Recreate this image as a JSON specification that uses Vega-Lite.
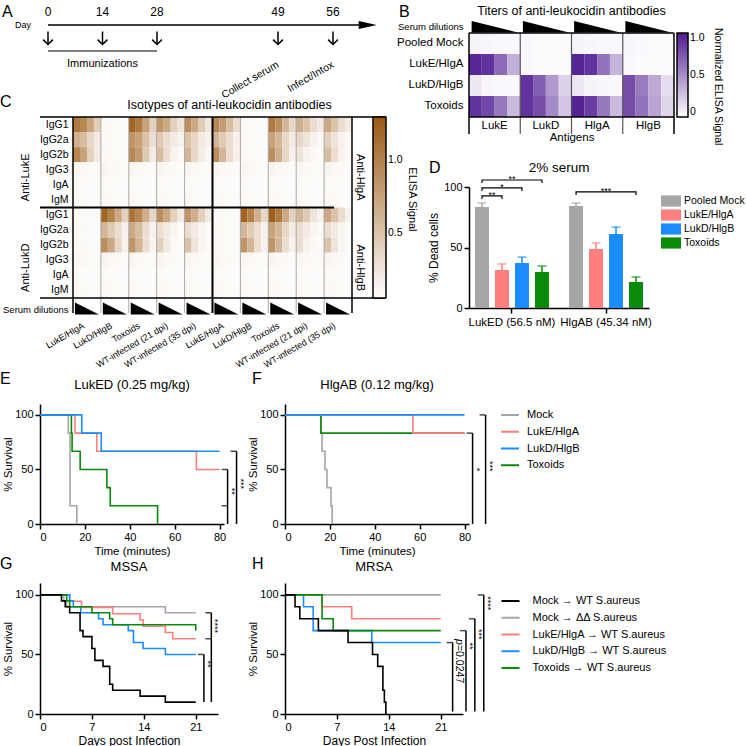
{
"$schema": "https://vega.github.io/schema/vega-lite/v6.json",
"background": "white",
"padding": {"left": 0, "top": 4, "right": 0, "bottom": 0},
"config": {
  "font": "Liberation Sans",
  "view": {"stroke": null},
  "axis": {"domainColor": "black", "domainWidth": 1.5, "tickColor": "black", "tickWidth": 1.5, "tickSize": 5, "labelColor": "black", "labelFontSize": 11, "titleColor": "black", "titleFontSize": 11.5, "titleFontWeight": "normal", "grid": false, "labelPadding": 2, "titlePadding": 3},
  "legend": {"labelColor": "black", "titleColor": "black", "labelFontSize": 11, "titleFontWeight": "normal"},
  "text": {"color": "black"}
},
"resolve": {"scale": {"color": "independent"}},
"spacing": 1,
"vconcat": [
 {"resolve": {"scale": {"color": "independent"}},
  "hconcat": [
  {"resolve": {"scale": {"color": "independent"}},
   "vconcat": [
   {
    "width": 340, "height": 52,
    "data": {"values": [{"day":0,"event":"Immunization"},{"day":14,"event":"Immunization"},{"day":28,"event":"Immunization"},{"day":49,"event":"Collect serum"},{"day":56,"event":"Infect/Intox"}]},
    "layer": [
     {"mark": {"type": "text", "fontSize": 12, "baseline": "middle"},
      "encoding": {"x": {"field": "day", "type": "quantitative", "scale": {"domain": [0,28,49,56,64], "range": [8,117,238,293,341]}, "axis": null},
                   "y": {"datum": "days", "type": "nominal", "scale": {"type": "point", "domain": ["days","line","arrows","bracket","label"], "padding": 0}, "axis": null},
                   "text": {"field": "day", "type": "quantitative"}}},
     {"data": {"values": [{}]}, "mark": {"type": "rule", "strokeWidth": 1.5, "color": "black"},
      "encoding": {"x": {"datum": 0, "type": "quantitative", "axis": null}, "x2": {"datum": 62}, "y": {"datum": "line", "type": "nominal", "axis": null}}},
     {"data": {"values": [{}]}, "mark": {"type": "point", "shape": "M-1,-0.45L1,0L-1,0.45Z", "size": 324, "filled": true, "color": "black", "opacity": 1, "strokeWidth": 0},
      "encoding": {"x": {"datum": 62.5, "type": "quantitative", "axis": null}, "y": {"datum": "line", "type": "nominal", "axis": null}}},
     {"mark": {"type": "point", "shape": "M0,-1L0,1M-0.75,0.25L0,1L0.75,0.25", "size": 169, "filled": false, "color": "black", "strokeWidth": 1.5, "opacity": 1},
      "encoding": {"x": {"field": "day", "type": "quantitative", "axis": null}, "y": {"datum": "arrows", "type": "nominal", "axis": null}}},
     {"data": {"values": [{}]}, "mark": {"type": "rule", "strokeWidth": 1.2, "color": "black"},
      "encoding": {"x": {"datum": 0, "type": "quantitative", "axis": null}, "x2": {"datum": 28}, "y": {"datum": "bracket", "type": "nominal", "axis": null}}},
     {"data": {"values": [{}]}, "mark": {"type": "text", "text": "Immunizations", "fontSize": 11, "baseline": "middle"},
      "encoding": {"x": {"datum": 14, "type": "quantitative", "axis": null}, "y": {"datum": "label", "type": "nominal", "axis": null}}},
     {"transform": [{"filter": "datum.day > 28"}], "mark": {"type": "text", "fontSize": 10.5, "angle": 330, "align": "right", "baseline": "middle"},
      "encoding": {"x": {"field": "day", "type": "quantitative", "axis": null}, "y": {"datum": "label", "type": "nominal", "axis": null}, "text": {"field": "event"}}},
     {"data": {"values": [{}]}, "mark": {"type": "text", "text": "Day", "fontSize": 9, "align": "right", "baseline": "middle", "xOffset": -17},
      "encoding": {"x": {"datum": 0, "type": "quantitative", "axis": null}, "y": {"datum": "line", "type": "nominal", "axis": null}}},
     {"data": {"values": [{}]}, "mark": {"type": "text", "text": "A", "fontSize": 16, "align": "left", "baseline": "middle", "xOffset": -46},
      "encoding": {"x": {"datum": 0, "type": "quantitative", "axis": null}, "y": {"datum": "days", "type": "nominal", "axis": null}}}
    ]
   },
   {
    "width": 312, "height": 196,
    "layer": [
     {"data": {"values": [
{"r":"top|IgG1","c":"L|LukE/HlgA|1","v":1.05},{"r":"top|IgG1","c":"L|LukE/HlgA|2","v":0.95},{"r":"top|IgG1","c":"L|LukE/HlgA|3","v":0.72},{"r":"top|IgG1","c":"L|LukE/HlgA|4","v":0.42},
{"r":"top|IgG1","c":"L|LukD/HlgB|1","v":0.1},{"r":"top|IgG1","c":"L|LukD/HlgB|2","v":0.09},{"r":"top|IgG1","c":"L|LukD/HlgB|3","v":0.08},{"r":"top|IgG1","c":"L|LukD/HlgB|4","v":0.08},
{"r":"top|IgG1","c":"L|Toxoids|1","v":1.22},{"r":"top|IgG1","c":"L|Toxoids|2","v":1.05},{"r":"top|IgG1","c":"L|Toxoids|3","v":0.75},{"r":"top|IgG1","c":"L|Toxoids|4","v":0.4},
{"r":"top|IgG1","c":"L|WT-infected (21 dpi)|1","v":0.85},{"r":"top|IgG1","c":"L|WT-infected (21 dpi)|2","v":0.7},{"r":"top|IgG1","c":"L|WT-infected (21 dpi)|3","v":0.4},{"r":"top|IgG1","c":"L|WT-infected (21 dpi)|4","v":0.25},
{"r":"top|IgG1","c":"L|WT-infected (35 dpi)|1","v":0.9},{"r":"top|IgG1","c":"L|WT-infected (35 dpi)|2","v":0.7},{"r":"top|IgG1","c":"L|WT-infected (35 dpi)|3","v":0.42},{"r":"top|IgG1","c":"L|WT-infected (35 dpi)|4","v":0.22},
{"r":"top|IgG1","c":"H|LukE/HlgA|1","v":0.95},{"r":"top|IgG1","c":"H|LukE/HlgA|2","v":0.8},{"r":"top|IgG1","c":"H|LukE/HlgA|3","v":0.55},{"r":"top|IgG1","c":"H|LukE/HlgA|4","v":0.3},
{"r":"top|IgG1","c":"H|LukD/HlgB|1","v":0.1},{"r":"top|IgG1","c":"H|LukD/HlgB|2","v":0.09},{"r":"top|IgG1","c":"H|LukD/HlgB|3","v":0.08},{"r":"top|IgG1","c":"H|LukD/HlgB|4","v":0.08},
{"r":"top|IgG1","c":"H|Toxoids|1","v":1.05},{"r":"top|IgG1","c":"H|Toxoids|2","v":0.9},{"r":"top|IgG1","c":"H|Toxoids|3","v":0.6},{"r":"top|IgG1","c":"H|Toxoids|4","v":0.35},
{"r":"top|IgG1","c":"H|WT-infected (21 dpi)|1","v":0.65},{"r":"top|IgG1","c":"H|WT-infected (21 dpi)|2","v":0.5},{"r":"top|IgG1","c":"H|WT-infected (21 dpi)|3","v":0.3},{"r":"top|IgG1","c":"H|WT-infected (21 dpi)|4","v":0.2},
{"r":"top|IgG1","c":"H|WT-infected (35 dpi)|1","v":0.7},{"r":"top|IgG1","c":"H|WT-infected (35 dpi)|2","v":0.5},{"r":"top|IgG1","c":"H|WT-infected (35 dpi)|3","v":0.3},{"r":"top|IgG1","c":"H|WT-infected (35 dpi)|4","v":0.2},
{"r":"top|IgG2a","c":"L|LukE/HlgA|1","v":0.65},{"r":"top|IgG2a","c":"L|LukE/HlgA|2","v":0.55},{"r":"top|IgG2a","c":"L|LukE/HlgA|3","v":0.35},{"r":"top|IgG2a","c":"L|LukE/HlgA|4","v":0.2},
{"r":"top|IgG2a","c":"L|LukD/HlgB|1","v":0.1},{"r":"top|IgG2a","c":"L|LukD/HlgB|2","v":0.09},{"r":"top|IgG2a","c":"L|LukD/HlgB|3","v":0.08},{"r":"top|IgG2a","c":"L|LukD/HlgB|4","v":0.08},
{"r":"top|IgG2a","c":"L|Toxoids|1","v":0.85},{"r":"top|IgG2a","c":"L|Toxoids|2","v":0.75},{"r":"top|IgG2a","c":"L|Toxoids|3","v":0.5},{"r":"top|IgG2a","c":"L|Toxoids|4","v":0.3},
{"r":"top|IgG2a","c":"L|WT-infected (21 dpi)|1","v":0.45},{"r":"top|IgG2a","c":"L|WT-infected (21 dpi)|2","v":0.3},{"r":"top|IgG2a","c":"L|WT-infected (21 dpi)|3","v":0.2},{"r":"top|IgG2a","c":"L|WT-infected (21 dpi)|4","v":0.15},
{"r":"top|IgG2a","c":"L|WT-infected (35 dpi)|1","v":0.5},{"r":"top|IgG2a","c":"L|WT-infected (35 dpi)|2","v":0.35},{"r":"top|IgG2a","c":"L|WT-infected (35 dpi)|3","v":0.2},{"r":"top|IgG2a","c":"L|WT-infected (35 dpi)|4","v":0.15},
{"r":"top|IgG2a","c":"H|LukE/HlgA|1","v":0.6},{"r":"top|IgG2a","c":"H|LukE/HlgA|2","v":0.45},{"r":"top|IgG2a","c":"H|LukE/HlgA|3","v":0.3},{"r":"top|IgG2a","c":"H|LukE/HlgA|4","v":0.15},
{"r":"top|IgG2a","c":"H|LukD/HlgB|1","v":0.1},{"r":"top|IgG2a","c":"H|LukD/HlgB|2","v":0.09},{"r":"top|IgG2a","c":"H|LukD/HlgB|3","v":0.08},{"r":"top|IgG2a","c":"H|LukD/HlgB|4","v":0.08},
{"r":"top|IgG2a","c":"H|Toxoids|1","v":0.75},{"r":"top|IgG2a","c":"H|Toxoids|2","v":0.6},{"r":"top|IgG2a","c":"H|Toxoids|3","v":0.35},{"r":"top|IgG2a","c":"H|Toxoids|4","v":0.2},
{"r":"top|IgG2a","c":"H|WT-infected (21 dpi)|1","v":0.35},{"r":"top|IgG2a","c":"H|WT-infected (21 dpi)|2","v":0.25},{"r":"top|IgG2a","c":"H|WT-infected (21 dpi)|3","v":0.15},{"r":"top|IgG2a","c":"H|WT-infected (21 dpi)|4","v":0.1},
{"r":"top|IgG2a","c":"H|WT-infected (35 dpi)|1","v":0.4},{"r":"top|IgG2a","c":"H|WT-infected (35 dpi)|2","v":0.25},{"r":"top|IgG2a","c":"H|WT-infected (35 dpi)|3","v":0.15},{"r":"top|IgG2a","c":"H|WT-infected (35 dpi)|4","v":0.1},
{"r":"top|IgG2b","c":"L|LukE/HlgA|1","v":0.95},{"r":"top|IgG2b","c":"L|LukE/HlgA|2","v":0.75},{"r":"top|IgG2b","c":"L|LukE/HlgA|3","v":0.4},{"r":"top|IgG2b","c":"L|LukE/HlgA|4","v":0.2},
{"r":"top|IgG2b","c":"L|LukD/HlgB|1","v":0.1},{"r":"top|IgG2b","c":"L|LukD/HlgB|2","v":0.09},{"r":"top|IgG2b","c":"L|LukD/HlgB|3","v":0.08},{"r":"top|IgG2b","c":"L|LukD/HlgB|4","v":0.08},
{"r":"top|IgG2b","c":"L|Toxoids|1","v":0.95},{"r":"top|IgG2b","c":"L|Toxoids|2","v":0.8},{"r":"top|IgG2b","c":"L|Toxoids|3","v":0.45},{"r":"top|IgG2b","c":"L|Toxoids|4","v":0.2},
{"r":"top|IgG2b","c":"L|WT-infected (21 dpi)|1","v":0.55},{"r":"top|IgG2b","c":"L|WT-infected (21 dpi)|2","v":0.3},{"r":"top|IgG2b","c":"L|WT-infected (21 dpi)|3","v":0.15},{"r":"top|IgG2b","c":"L|WT-infected (21 dpi)|4","v":0.1},
{"r":"top|IgG2b","c":"L|WT-infected (35 dpi)|1","v":0.6},{"r":"top|IgG2b","c":"L|WT-infected (35 dpi)|2","v":0.35},{"r":"top|IgG2b","c":"L|WT-infected (35 dpi)|3","v":0.18},{"r":"top|IgG2b","c":"L|WT-infected (35 dpi)|4","v":0.1},
{"r":"top|IgG2b","c":"H|LukE/HlgA|1","v":0.9},{"r":"top|IgG2b","c":"H|LukE/HlgA|2","v":0.6},{"r":"top|IgG2b","c":"H|LukE/HlgA|3","v":0.3},{"r":"top|IgG2b","c":"H|LukE/HlgA|4","v":0.15},
{"r":"top|IgG2b","c":"H|LukD/HlgB|1","v":0.1},{"r":"top|IgG2b","c":"H|LukD/HlgB|2","v":0.09},{"r":"top|IgG2b","c":"H|LukD/HlgB|3","v":0.08},{"r":"top|IgG2b","c":"H|LukD/HlgB|4","v":0.08},
{"r":"top|IgG2b","c":"H|Toxoids|1","v":0.9},{"r":"top|IgG2b","c":"H|Toxoids|2","v":0.65},{"r":"top|IgG2b","c":"H|Toxoids|3","v":0.35},{"r":"top|IgG2b","c":"H|Toxoids|4","v":0.15},
{"r":"top|IgG2b","c":"H|WT-infected (21 dpi)|1","v":0.25},{"r":"top|IgG2b","c":"H|WT-infected (21 dpi)|2","v":0.15},{"r":"top|IgG2b","c":"H|WT-infected (21 dpi)|3","v":0.1},{"r":"top|IgG2b","c":"H|WT-infected (21 dpi)|4","v":0.08},
{"r":"top|IgG2b","c":"H|WT-infected (35 dpi)|1","v":0.55},{"r":"top|IgG2b","c":"H|WT-infected (35 dpi)|2","v":0.3},{"r":"top|IgG2b","c":"H|WT-infected (35 dpi)|3","v":0.15},{"r":"top|IgG2b","c":"H|WT-infected (35 dpi)|4","v":0.1},
{"r":"top|IgG3","c":"L|LukE/HlgA|1","v":0.12},{"r":"top|IgG3","c":"L|LukE/HlgA|2","v":0.1},{"r":"top|IgG3","c":"L|LukE/HlgA|3","v":0.09},{"r":"top|IgG3","c":"L|LukE/HlgA|4","v":0.08},
{"r":"top|IgG3","c":"L|LukD/HlgB|1","v":0.12},{"r":"top|IgG3","c":"L|LukD/HlgB|2","v":0.1},{"r":"top|IgG3","c":"L|LukD/HlgB|3","v":0.09},{"r":"top|IgG3","c":"L|LukD/HlgB|4","v":0.08},
{"r":"top|IgG3","c":"L|Toxoids|1","v":0.12},{"r":"top|IgG3","c":"L|Toxoids|2","v":0.1},{"r":"top|IgG3","c":"L|Toxoids|3","v":0.09},{"r":"top|IgG3","c":"L|Toxoids|4","v":0.08},
{"r":"top|IgG3","c":"L|WT-infected (21 dpi)|1","v":0.12},{"r":"top|IgG3","c":"L|WT-infected (21 dpi)|2","v":0.1},{"r":"top|IgG3","c":"L|WT-infected (21 dpi)|3","v":0.09},{"r":"top|IgG3","c":"L|WT-infected (21 dpi)|4","v":0.08},
{"r":"top|IgG3","c":"L|WT-infected (35 dpi)|1","v":0.12},{"r":"top|IgG3","c":"L|WT-infected (35 dpi)|2","v":0.1},{"r":"top|IgG3","c":"L|WT-infected (35 dpi)|3","v":0.09},{"r":"top|IgG3","c":"L|WT-infected (35 dpi)|4","v":0.08},
{"r":"top|IgG3","c":"H|LukE/HlgA|1","v":0.12},{"r":"top|IgG3","c":"H|LukE/HlgA|2","v":0.1},{"r":"top|IgG3","c":"H|LukE/HlgA|3","v":0.09},{"r":"top|IgG3","c":"H|LukE/HlgA|4","v":0.08},
{"r":"top|IgG3","c":"H|LukD/HlgB|1","v":0.12},{"r":"top|IgG3","c":"H|LukD/HlgB|2","v":0.1},{"r":"top|IgG3","c":"H|LukD/HlgB|3","v":0.09},{"r":"top|IgG3","c":"H|LukD/HlgB|4","v":0.08},
{"r":"top|IgG3","c":"H|Toxoids|1","v":0.12},{"r":"top|IgG3","c":"H|Toxoids|2","v":0.1},{"r":"top|IgG3","c":"H|Toxoids|3","v":0.09},{"r":"top|IgG3","c":"H|Toxoids|4","v":0.08},
{"r":"top|IgG3","c":"H|WT-infected (21 dpi)|1","v":0.12},{"r":"top|IgG3","c":"H|WT-infected (21 dpi)|2","v":0.1},{"r":"top|IgG3","c":"H|WT-infected (21 dpi)|3","v":0.09},{"r":"top|IgG3","c":"H|WT-infected (21 dpi)|4","v":0.08},
{"r":"top|IgG3","c":"H|WT-infected (35 dpi)|1","v":0.12},{"r":"top|IgG3","c":"H|WT-infected (35 dpi)|2","v":0.1},{"r":"top|IgG3","c":"H|WT-infected (35 dpi)|3","v":0.09},{"r":"top|IgG3","c":"H|WT-infected (35 dpi)|4","v":0.08},
{"r":"top|IgA","c":"L|LukE/HlgA|1","v":0.09},{"r":"top|IgA","c":"L|LukE/HlgA|2","v":0.08},{"r":"top|IgA","c":"L|LukE/HlgA|3","v":0.08},{"r":"top|IgA","c":"L|LukE/HlgA|4","v":0.07},
{"r":"top|IgA","c":"L|LukD/HlgB|1","v":0.09},{"r":"top|IgA","c":"L|LukD/HlgB|2","v":0.08},{"r":"top|IgA","c":"L|LukD/HlgB|3","v":0.08},{"r":"top|IgA","c":"L|LukD/HlgB|4","v":0.07},
{"r":"top|IgA","c":"L|Toxoids|1","v":0.09},{"r":"top|IgA","c":"L|Toxoids|2","v":0.08},{"r":"top|IgA","c":"L|Toxoids|3","v":0.08},{"r":"top|IgA","c":"L|Toxoids|4","v":0.07},
{"r":"top|IgA","c":"L|WT-infected (21 dpi)|1","v":0.09},{"r":"top|IgA","c":"L|WT-infected (21 dpi)|2","v":0.08},{"r":"top|IgA","c":"L|WT-infected (21 dpi)|3","v":0.08},{"r":"top|IgA","c":"L|WT-infected (21 dpi)|4","v":0.07},
{"r":"top|IgA","c":"L|WT-infected (35 dpi)|1","v":0.09},{"r":"top|IgA","c":"L|WT-infected (35 dpi)|2","v":0.08},{"r":"top|IgA","c":"L|WT-infected (35 dpi)|3","v":0.08},{"r":"top|IgA","c":"L|WT-infected (35 dpi)|4","v":0.07},
{"r":"top|IgA","c":"H|LukE/HlgA|1","v":0.09},{"r":"top|IgA","c":"H|LukE/HlgA|2","v":0.08},{"r":"top|IgA","c":"H|LukE/HlgA|3","v":0.08},{"r":"top|IgA","c":"H|LukE/HlgA|4","v":0.07},
{"r":"top|IgA","c":"H|LukD/HlgB|1","v":0.09},{"r":"top|IgA","c":"H|LukD/HlgB|2","v":0.08},{"r":"top|IgA","c":"H|LukD/HlgB|3","v":0.08},{"r":"top|IgA","c":"H|LukD/HlgB|4","v":0.07},
{"r":"top|IgA","c":"H|Toxoids|1","v":0.09},{"r":"top|IgA","c":"H|Toxoids|2","v":0.08},{"r":"top|IgA","c":"H|Toxoids|3","v":0.08},{"r":"top|IgA","c":"H|Toxoids|4","v":0.07},
{"r":"top|IgA","c":"H|WT-infected (21 dpi)|1","v":0.09},{"r":"top|IgA","c":"H|WT-infected (21 dpi)|2","v":0.08},{"r":"top|IgA","c":"H|WT-infected (21 dpi)|3","v":0.08},{"r":"top|IgA","c":"H|WT-infected (21 dpi)|4","v":0.07},
{"r":"top|IgA","c":"H|WT-infected (35 dpi)|1","v":0.09},{"r":"top|IgA","c":"H|WT-infected (35 dpi)|2","v":0.08},{"r":"top|IgA","c":"H|WT-infected (35 dpi)|3","v":0.08},{"r":"top|IgA","c":"H|WT-infected (35 dpi)|4","v":0.07},
{"r":"top|IgM","c":"L|LukE/HlgA|1","v":0.1},{"r":"top|IgM","c":"L|LukE/HlgA|2","v":0.09},{"r":"top|IgM","c":"L|LukE/HlgA|3","v":0.08},{"r":"top|IgM","c":"L|LukE/HlgA|4","v":0.08},
{"r":"top|IgM","c":"L|LukD/HlgB|1","v":0.1},{"r":"top|IgM","c":"L|LukD/HlgB|2","v":0.09},{"r":"top|IgM","c":"L|LukD/HlgB|3","v":0.08},{"r":"top|IgM","c":"L|LukD/HlgB|4","v":0.08},
{"r":"top|IgM","c":"L|Toxoids|1","v":0.1},{"r":"top|IgM","c":"L|Toxoids|2","v":0.09},{"r":"top|IgM","c":"L|Toxoids|3","v":0.08},{"r":"top|IgM","c":"L|Toxoids|4","v":0.08},
{"r":"top|IgM","c":"L|WT-infected (21 dpi)|1","v":0.1},{"r":"top|IgM","c":"L|WT-infected (21 dpi)|2","v":0.09},{"r":"top|IgM","c":"L|WT-infected (21 dpi)|3","v":0.08},{"r":"top|IgM","c":"L|WT-infected (21 dpi)|4","v":0.08},
{"r":"top|IgM","c":"L|WT-infected (35 dpi)|1","v":0.1},{"r":"top|IgM","c":"L|WT-infected (35 dpi)|2","v":0.09},{"r":"top|IgM","c":"L|WT-infected (35 dpi)|3","v":0.08},{"r":"top|IgM","c":"L|WT-infected (35 dpi)|4","v":0.08},
{"r":"top|IgM","c":"H|LukE/HlgA|1","v":0.1},{"r":"top|IgM","c":"H|LukE/HlgA|2","v":0.09},{"r":"top|IgM","c":"H|LukE/HlgA|3","v":0.08},{"r":"top|IgM","c":"H|LukE/HlgA|4","v":0.08},
{"r":"top|IgM","c":"H|LukD/HlgB|1","v":0.1},{"r":"top|IgM","c":"H|LukD/HlgB|2","v":0.09},{"r":"top|IgM","c":"H|LukD/HlgB|3","v":0.08},{"r":"top|IgM","c":"H|LukD/HlgB|4","v":0.08},
{"r":"top|IgM","c":"H|Toxoids|1","v":0.1},{"r":"top|IgM","c":"H|Toxoids|2","v":0.09},{"r":"top|IgM","c":"H|Toxoids|3","v":0.08},{"r":"top|IgM","c":"H|Toxoids|4","v":0.08},
{"r":"top|IgM","c":"H|WT-infected (21 dpi)|1","v":0.1},{"r":"top|IgM","c":"H|WT-infected (21 dpi)|2","v":0.09},{"r":"top|IgM","c":"H|WT-infected (21 dpi)|3","v":0.08},{"r":"top|IgM","c":"H|WT-infected (21 dpi)|4","v":0.08},
{"r":"top|IgM","c":"H|WT-infected (35 dpi)|1","v":0.1},{"r":"top|IgM","c":"H|WT-infected (35 dpi)|2","v":0.09},{"r":"top|IgM","c":"H|WT-infected (35 dpi)|3","v":0.08},{"r":"top|IgM","c":"H|WT-infected (35 dpi)|4","v":0.08},
{"r":"bot|IgG1","c":"L|LukE/HlgA|1","v":0.1},{"r":"bot|IgG1","c":"L|LukE/HlgA|2","v":0.09},{"r":"bot|IgG1","c":"L|LukE/HlgA|3","v":0.08},{"r":"bot|IgG1","c":"L|LukE/HlgA|4","v":0.08},
{"r":"bot|IgG1","c":"L|LukD/HlgB|1","v":1.2},{"r":"bot|IgG1","c":"L|LukD/HlgB|2","v":1.0},{"r":"bot|IgG1","c":"L|LukD/HlgB|3","v":0.7},{"r":"bot|IgG1","c":"L|LukD/HlgB|4","v":0.4},
{"r":"bot|IgG1","c":"L|Toxoids|1","v":1.1},{"r":"bot|IgG1","c":"L|Toxoids|2","v":0.95},{"r":"bot|IgG1","c":"L|Toxoids|3","v":0.65},{"r":"bot|IgG1","c":"L|Toxoids|4","v":0.35},
{"r":"bot|IgG1","c":"L|WT-infected (21 dpi)|1","v":0.9},{"r":"bot|IgG1","c":"L|WT-infected (21 dpi)|2","v":0.7},{"r":"bot|IgG1","c":"L|WT-infected (21 dpi)|3","v":0.4},{"r":"bot|IgG1","c":"L|WT-infected (21 dpi)|4","v":0.2},
{"r":"bot|IgG1","c":"L|WT-infected (35 dpi)|1","v":0.85},{"r":"bot|IgG1","c":"L|WT-infected (35 dpi)|2","v":0.65},{"r":"bot|IgG1","c":"L|WT-infected (35 dpi)|3","v":0.4},{"r":"bot|IgG1","c":"L|WT-infected (35 dpi)|4","v":0.2},
{"r":"bot|IgG1","c":"H|LukE/HlgA|1","v":0.1},{"r":"bot|IgG1","c":"H|LukE/HlgA|2","v":0.09},{"r":"bot|IgG1","c":"H|LukE/HlgA|3","v":0.08},{"r":"bot|IgG1","c":"H|LukE/HlgA|4","v":0.08},
{"r":"bot|IgG1","c":"H|LukD/HlgB|1","v":1.2},{"r":"bot|IgG1","c":"H|LukD/HlgB|2","v":1.0},{"r":"bot|IgG1","c":"H|LukD/HlgB|3","v":0.65},{"r":"bot|IgG1","c":"H|LukD/HlgB|4","v":0.35},
{"r":"bot|IgG1","c":"H|Toxoids|1","v":1.25},{"r":"bot|IgG1","c":"H|Toxoids|2","v":1.05},{"r":"bot|IgG1","c":"H|Toxoids|3","v":0.7},{"r":"bot|IgG1","c":"H|Toxoids|4","v":0.4},
{"r":"bot|IgG1","c":"H|WT-infected (21 dpi)|1","v":0.6},{"r":"bot|IgG1","c":"H|WT-infected (21 dpi)|2","v":0.45},{"r":"bot|IgG1","c":"H|WT-infected (21 dpi)|3","v":0.25},{"r":"bot|IgG1","c":"H|WT-infected (21 dpi)|4","v":0.15},
{"r":"bot|IgG1","c":"H|WT-infected (35 dpi)|1","v":0.7},{"r":"bot|IgG1","c":"H|WT-infected (35 dpi)|2","v":0.5},{"r":"bot|IgG1","c":"H|WT-infected (35 dpi)|3","v":0.3},{"r":"bot|IgG1","c":"H|WT-infected (35 dpi)|4","v":0.15},
{"r":"bot|IgG2a","c":"L|LukE/HlgA|1","v":0.1},{"r":"bot|IgG2a","c":"L|LukE/HlgA|2","v":0.09},{"r":"bot|IgG2a","c":"L|LukE/HlgA|3","v":0.08},{"r":"bot|IgG2a","c":"L|LukE/HlgA|4","v":0.08},
{"r":"bot|IgG2a","c":"L|LukD/HlgB|1","v":0.6},{"r":"bot|IgG2a","c":"L|LukD/HlgB|2","v":0.45},{"r":"bot|IgG2a","c":"L|LukD/HlgB|3","v":0.3},{"r":"bot|IgG2a","c":"L|LukD/HlgB|4","v":0.15},
{"r":"bot|IgG2a","c":"L|Toxoids|1","v":0.7},{"r":"bot|IgG2a","c":"L|Toxoids|2","v":0.55},{"r":"bot|IgG2a","c":"L|Toxoids|3","v":0.3},{"r":"bot|IgG2a","c":"L|Toxoids|4","v":0.15},
{"r":"bot|IgG2a","c":"L|WT-infected (21 dpi)|1","v":0.3},{"r":"bot|IgG2a","c":"L|WT-infected (21 dpi)|2","v":0.2},{"r":"bot|IgG2a","c":"L|WT-infected (21 dpi)|3","v":0.12},{"r":"bot|IgG2a","c":"L|WT-infected (21 dpi)|4","v":0.08},
{"r":"bot|IgG2a","c":"L|WT-infected (35 dpi)|1","v":0.3},{"r":"bot|IgG2a","c":"L|WT-infected (35 dpi)|2","v":0.2},{"r":"bot|IgG2a","c":"L|WT-infected (35 dpi)|3","v":0.12},{"r":"bot|IgG2a","c":"L|WT-infected (35 dpi)|4","v":0.08},
{"r":"bot|IgG2a","c":"H|LukE/HlgA|1","v":0.1},{"r":"bot|IgG2a","c":"H|LukE/HlgA|2","v":0.09},{"r":"bot|IgG2a","c":"H|LukE/HlgA|3","v":0.08},{"r":"bot|IgG2a","c":"H|LukE/HlgA|4","v":0.08},
{"r":"bot|IgG2a","c":"H|LukD/HlgB|1","v":0.6},{"r":"bot|IgG2a","c":"H|LukD/HlgB|2","v":0.45},{"r":"bot|IgG2a","c":"H|LukD/HlgB|3","v":0.3},{"r":"bot|IgG2a","c":"H|LukD/HlgB|4","v":0.15},
{"r":"bot|IgG2a","c":"H|Toxoids|1","v":0.75},{"r":"bot|IgG2a","c":"H|Toxoids|2","v":0.6},{"r":"bot|IgG2a","c":"H|Toxoids|3","v":0.35},{"r":"bot|IgG2a","c":"H|Toxoids|4","v":0.2},
{"r":"bot|IgG2a","c":"H|WT-infected (21 dpi)|1","v":0.3},{"r":"bot|IgG2a","c":"H|WT-infected (21 dpi)|2","v":0.2},{"r":"bot|IgG2a","c":"H|WT-infected (21 dpi)|3","v":0.12},{"r":"bot|IgG2a","c":"H|WT-infected (21 dpi)|4","v":0.08},
{"r":"bot|IgG2a","c":"H|WT-infected (35 dpi)|1","v":0.3},{"r":"bot|IgG2a","c":"H|WT-infected (35 dpi)|2","v":0.2},{"r":"bot|IgG2a","c":"H|WT-infected (35 dpi)|3","v":0.12},{"r":"bot|IgG2a","c":"H|WT-infected (35 dpi)|4","v":0.08},
{"r":"bot|IgG2b","c":"L|LukE/HlgA|1","v":0.1},{"r":"bot|IgG2b","c":"L|LukE/HlgA|2","v":0.09},{"r":"bot|IgG2b","c":"L|LukE/HlgA|3","v":0.08},{"r":"bot|IgG2b","c":"L|LukE/HlgA|4","v":0.08},
{"r":"bot|IgG2b","c":"L|LukD/HlgB|1","v":0.9},{"r":"bot|IgG2b","c":"L|LukD/HlgB|2","v":0.7},{"r":"bot|IgG2b","c":"L|LukD/HlgB|3","v":0.35},{"r":"bot|IgG2b","c":"L|LukD/HlgB|4","v":0.15},
{"r":"bot|IgG2b","c":"L|Toxoids|1","v":0.85},{"r":"bot|IgG2b","c":"L|Toxoids|2","v":0.6},{"r":"bot|IgG2b","c":"L|Toxoids|3","v":0.3},{"r":"bot|IgG2b","c":"L|Toxoids|4","v":0.12},
{"r":"bot|IgG2b","c":"L|WT-infected (21 dpi)|1","v":0.4},{"r":"bot|IgG2b","c":"L|WT-infected (21 dpi)|2","v":0.2},{"r":"bot|IgG2b","c":"L|WT-infected (21 dpi)|3","v":0.1},{"r":"bot|IgG2b","c":"L|WT-infected (21 dpi)|4","v":0.08},
{"r":"bot|IgG2b","c":"L|WT-infected (35 dpi)|1","v":0.5},{"r":"bot|IgG2b","c":"L|WT-infected (35 dpi)|2","v":0.25},{"r":"bot|IgG2b","c":"L|WT-infected (35 dpi)|3","v":0.12},{"r":"bot|IgG2b","c":"L|WT-infected (35 dpi)|4","v":0.08},
{"r":"bot|IgG2b","c":"H|LukE/HlgA|1","v":0.1},{"r":"bot|IgG2b","c":"H|LukE/HlgA|2","v":0.09},{"r":"bot|IgG2b","c":"H|LukE/HlgA|3","v":0.08},{"r":"bot|IgG2b","c":"H|LukE/HlgA|4","v":0.08},
{"r":"bot|IgG2b","c":"H|LukD/HlgB|1","v":0.85},{"r":"bot|IgG2b","c":"H|LukD/HlgB|2","v":0.6},{"r":"bot|IgG2b","c":"H|LukD/HlgB|3","v":0.3},{"r":"bot|IgG2b","c":"H|LukD/HlgB|4","v":0.15},
{"r":"bot|IgG2b","c":"H|Toxoids|1","v":0.85},{"r":"bot|IgG2b","c":"H|Toxoids|2","v":0.6},{"r":"bot|IgG2b","c":"H|Toxoids|3","v":0.3},{"r":"bot|IgG2b","c":"H|Toxoids|4","v":0.15},
{"r":"bot|IgG2b","c":"H|WT-infected (21 dpi)|1","v":0.3},{"r":"bot|IgG2b","c":"H|WT-infected (21 dpi)|2","v":0.15},{"r":"bot|IgG2b","c":"H|WT-infected (21 dpi)|3","v":0.1},{"r":"bot|IgG2b","c":"H|WT-infected (21 dpi)|4","v":0.08},
{"r":"bot|IgG2b","c":"H|WT-infected (35 dpi)|1","v":0.5},{"r":"bot|IgG2b","c":"H|WT-infected (35 dpi)|2","v":0.25},{"r":"bot|IgG2b","c":"H|WT-infected (35 dpi)|3","v":0.12},{"r":"bot|IgG2b","c":"H|WT-infected (35 dpi)|4","v":0.08},
{"r":"bot|IgG3","c":"L|LukE/HlgA|1","v":0.12},{"r":"bot|IgG3","c":"L|LukE/HlgA|2","v":0.1},{"r":"bot|IgG3","c":"L|LukE/HlgA|3","v":0.09},{"r":"bot|IgG3","c":"L|LukE/HlgA|4","v":0.08},
{"r":"bot|IgG3","c":"L|LukD/HlgB|1","v":0.12},{"r":"bot|IgG3","c":"L|LukD/HlgB|2","v":0.1},{"r":"bot|IgG3","c":"L|LukD/HlgB|3","v":0.09},{"r":"bot|IgG3","c":"L|LukD/HlgB|4","v":0.08},
{"r":"bot|IgG3","c":"L|Toxoids|1","v":0.12},{"r":"bot|IgG3","c":"L|Toxoids|2","v":0.1},{"r":"bot|IgG3","c":"L|Toxoids|3","v":0.09},{"r":"bot|IgG3","c":"L|Toxoids|4","v":0.08},
{"r":"bot|IgG3","c":"L|WT-infected (21 dpi)|1","v":0.12},{"r":"bot|IgG3","c":"L|WT-infected (21 dpi)|2","v":0.1},{"r":"bot|IgG3","c":"L|WT-infected (21 dpi)|3","v":0.09},{"r":"bot|IgG3","c":"L|WT-infected (21 dpi)|4","v":0.08},
{"r":"bot|IgG3","c":"L|WT-infected (35 dpi)|1","v":0.12},{"r":"bot|IgG3","c":"L|WT-infected (35 dpi)|2","v":0.1},{"r":"bot|IgG3","c":"L|WT-infected (35 dpi)|3","v":0.09},{"r":"bot|IgG3","c":"L|WT-infected (35 dpi)|4","v":0.08},
{"r":"bot|IgG3","c":"H|LukE/HlgA|1","v":0.12},{"r":"bot|IgG3","c":"H|LukE/HlgA|2","v":0.1},{"r":"bot|IgG3","c":"H|LukE/HlgA|3","v":0.09},{"r":"bot|IgG3","c":"H|LukE/HlgA|4","v":0.08},
{"r":"bot|IgG3","c":"H|LukD/HlgB|1","v":0.12},{"r":"bot|IgG3","c":"H|LukD/HlgB|2","v":0.1},{"r":"bot|IgG3","c":"H|LukD/HlgB|3","v":0.09},{"r":"bot|IgG3","c":"H|LukD/HlgB|4","v":0.08},
{"r":"bot|IgG3","c":"H|Toxoids|1","v":0.12},{"r":"bot|IgG3","c":"H|Toxoids|2","v":0.1},{"r":"bot|IgG3","c":"H|Toxoids|3","v":0.09},{"r":"bot|IgG3","c":"H|Toxoids|4","v":0.08},
{"r":"bot|IgG3","c":"H|WT-infected (21 dpi)|1","v":0.12},{"r":"bot|IgG3","c":"H|WT-infected (21 dpi)|2","v":0.1},{"r":"bot|IgG3","c":"H|WT-infected (21 dpi)|3","v":0.09},{"r":"bot|IgG3","c":"H|WT-infected (21 dpi)|4","v":0.08},
{"r":"bot|IgG3","c":"H|WT-infected (35 dpi)|1","v":0.12},{"r":"bot|IgG3","c":"H|WT-infected (35 dpi)|2","v":0.1},{"r":"bot|IgG3","c":"H|WT-infected (35 dpi)|3","v":0.09},{"r":"bot|IgG3","c":"H|WT-infected (35 dpi)|4","v":0.08},
{"r":"bot|IgA","c":"L|LukE/HlgA|1","v":0.09},{"r":"bot|IgA","c":"L|LukE/HlgA|2","v":0.08},{"r":"bot|IgA","c":"L|LukE/HlgA|3","v":0.08},{"r":"bot|IgA","c":"L|LukE/HlgA|4","v":0.07},
{"r":"bot|IgA","c":"L|LukD/HlgB|1","v":0.09},{"r":"bot|IgA","c":"L|LukD/HlgB|2","v":0.08},{"r":"bot|IgA","c":"L|LukD/HlgB|3","v":0.08},{"r":"bot|IgA","c":"L|LukD/HlgB|4","v":0.07},
{"r":"bot|IgA","c":"L|Toxoids|1","v":0.09},{"r":"bot|IgA","c":"L|Toxoids|2","v":0.08},{"r":"bot|IgA","c":"L|Toxoids|3","v":0.08},{"r":"bot|IgA","c":"L|Toxoids|4","v":0.07},
{"r":"bot|IgA","c":"L|WT-infected (21 dpi)|1","v":0.09},{"r":"bot|IgA","c":"L|WT-infected (21 dpi)|2","v":0.08},{"r":"bot|IgA","c":"L|WT-infected (21 dpi)|3","v":0.08},{"r":"bot|IgA","c":"L|WT-infected (21 dpi)|4","v":0.07},
{"r":"bot|IgA","c":"L|WT-infected (35 dpi)|1","v":0.09},{"r":"bot|IgA","c":"L|WT-infected (35 dpi)|2","v":0.08},{"r":"bot|IgA","c":"L|WT-infected (35 dpi)|3","v":0.08},{"r":"bot|IgA","c":"L|WT-infected (35 dpi)|4","v":0.07},
{"r":"bot|IgA","c":"H|LukE/HlgA|1","v":0.09},{"r":"bot|IgA","c":"H|LukE/HlgA|2","v":0.08},{"r":"bot|IgA","c":"H|LukE/HlgA|3","v":0.08},{"r":"bot|IgA","c":"H|LukE/HlgA|4","v":0.07},
{"r":"bot|IgA","c":"H|LukD/HlgB|1","v":0.09},{"r":"bot|IgA","c":"H|LukD/HlgB|2","v":0.08},{"r":"bot|IgA","c":"H|LukD/HlgB|3","v":0.08},{"r":"bot|IgA","c":"H|LukD/HlgB|4","v":0.07},
{"r":"bot|IgA","c":"H|Toxoids|1","v":0.09},{"r":"bot|IgA","c":"H|Toxoids|2","v":0.08},{"r":"bot|IgA","c":"H|Toxoids|3","v":0.08},{"r":"bot|IgA","c":"H|Toxoids|4","v":0.07},
{"r":"bot|IgA","c":"H|WT-infected (21 dpi)|1","v":0.09},{"r":"bot|IgA","c":"H|WT-infected (21 dpi)|2","v":0.08},{"r":"bot|IgA","c":"H|WT-infected (21 dpi)|3","v":0.08},{"r":"bot|IgA","c":"H|WT-infected (21 dpi)|4","v":0.07},
{"r":"bot|IgA","c":"H|WT-infected (35 dpi)|1","v":0.09},{"r":"bot|IgA","c":"H|WT-infected (35 dpi)|2","v":0.08},{"r":"bot|IgA","c":"H|WT-infected (35 dpi)|3","v":0.08},{"r":"bot|IgA","c":"H|WT-infected (35 dpi)|4","v":0.07},
{"r":"bot|IgM","c":"L|LukE/HlgA|1","v":0.1},{"r":"bot|IgM","c":"L|LukE/HlgA|2","v":0.09},{"r":"bot|IgM","c":"L|LukE/HlgA|3","v":0.08},{"r":"bot|IgM","c":"L|LukE/HlgA|4","v":0.08},
{"r":"bot|IgM","c":"L|LukD/HlgB|1","v":0.1},{"r":"bot|IgM","c":"L|LukD/HlgB|2","v":0.09},{"r":"bot|IgM","c":"L|LukD/HlgB|3","v":0.08},{"r":"bot|IgM","c":"L|LukD/HlgB|4","v":0.08},
{"r":"bot|IgM","c":"L|Toxoids|1","v":0.1},{"r":"bot|IgM","c":"L|Toxoids|2","v":0.09},{"r":"bot|IgM","c":"L|Toxoids|3","v":0.08},{"r":"bot|IgM","c":"L|Toxoids|4","v":0.08},
{"r":"bot|IgM","c":"L|WT-infected (21 dpi)|1","v":0.1},{"r":"bot|IgM","c":"L|WT-infected (21 dpi)|2","v":0.09},{"r":"bot|IgM","c":"L|WT-infected (21 dpi)|3","v":0.08},{"r":"bot|IgM","c":"L|WT-infected (21 dpi)|4","v":0.08},
{"r":"bot|IgM","c":"L|WT-infected (35 dpi)|1","v":0.1},{"r":"bot|IgM","c":"L|WT-infected (35 dpi)|2","v":0.09},{"r":"bot|IgM","c":"L|WT-infected (35 dpi)|3","v":0.08},{"r":"bot|IgM","c":"L|WT-infected (35 dpi)|4","v":0.08},
{"r":"bot|IgM","c":"H|LukE/HlgA|1","v":0.1},{"r":"bot|IgM","c":"H|LukE/HlgA|2","v":0.09},{"r":"bot|IgM","c":"H|LukE/HlgA|3","v":0.08},{"r":"bot|IgM","c":"H|LukE/HlgA|4","v":0.08},
{"r":"bot|IgM","c":"H|LukD/HlgB|1","v":0.1},{"r":"bot|IgM","c":"H|LukD/HlgB|2","v":0.09},{"r":"bot|IgM","c":"H|LukD/HlgB|3","v":0.08},{"r":"bot|IgM","c":"H|LukD/HlgB|4","v":0.08},
{"r":"bot|IgM","c":"H|Toxoids|1","v":0.1},{"r":"bot|IgM","c":"H|Toxoids|2","v":0.09},{"r":"bot|IgM","c":"H|Toxoids|3","v":0.08},{"r":"bot|IgM","c":"H|Toxoids|4","v":0.08},
{"r":"bot|IgM","c":"H|WT-infected (21 dpi)|1","v":0.1},{"r":"bot|IgM","c":"H|WT-infected (21 dpi)|2","v":0.09},{"r":"bot|IgM","c":"H|WT-infected (21 dpi)|3","v":0.08},{"r":"bot|IgM","c":"H|WT-infected (21 dpi)|4","v":0.08},
{"r":"bot|IgM","c":"H|WT-infected (35 dpi)|1","v":0.1},{"r":"bot|IgM","c":"H|WT-infected (35 dpi)|2","v":0.09},{"r":"bot|IgM","c":"H|WT-infected (35 dpi)|3","v":0.08},{"r":"bot|IgM","c":"H|WT-infected (35 dpi)|4","v":0.08}
      ]},
      "mark": {"type": "rect"},
      "encoding": {
       "x": {"field": "c", "type": "nominal",
             "scale": {"type": "band", "range": [33, 312], "paddingInner": 0, "paddingOuter": 0,
                       "domain": ["L|LukE/HlgA|1","L|LukE/HlgA|2","L|LukE/HlgA|3","L|LukE/HlgA|4","L|LukD/HlgB|1","L|LukD/HlgB|2","L|LukD/HlgB|3","L|LukD/HlgB|4","L|Toxoids|1","L|Toxoids|2","L|Toxoids|3","L|Toxoids|4","L|WT-infected (21 dpi)|1","L|WT-infected (21 dpi)|2","L|WT-infected (21 dpi)|3","L|WT-infected (21 dpi)|4","L|WT-infected (35 dpi)|1","L|WT-infected (35 dpi)|2","L|WT-infected (35 dpi)|3","L|WT-infected (35 dpi)|4","H|LukE/HlgA|1","H|LukE/HlgA|2","H|LukE/HlgA|3","H|LukE/HlgA|4","H|LukD/HlgB|1","H|LukD/HlgB|2","H|LukD/HlgB|3","H|LukD/HlgB|4","H|Toxoids|1","H|Toxoids|2","H|Toxoids|3","H|Toxoids|4","H|WT-infected (21 dpi)|1","H|WT-infected (21 dpi)|2","H|WT-infected (21 dpi)|3","H|WT-infected (21 dpi)|4","H|WT-infected (35 dpi)|1","H|WT-infected (35 dpi)|2","H|WT-infected (35 dpi)|3","H|WT-infected (35 dpi)|4"]},
             "axis": {"title": null, "values": ["L|LukE/HlgA|2","L|LukD/HlgB|2","L|Toxoids|2","L|WT-infected (21 dpi)|2","L|WT-infected (35 dpi)|2","H|LukE/HlgA|2","H|LukD/HlgB|2","H|Toxoids|2","H|WT-infected (21 dpi)|2","H|WT-infected (35 dpi)|2"],
                      "labelExpr": "split(datum.label, '|')[1]", "labelAngle": 330, "labelAlign": "right", "labelBaseline": "top", "ticks": false, "domain": false, "labelPadding": 8, "labelOffset": -2, "labelFontSize": 9}},
       "y": {"field": "r", "type": "nominal", "scale": {"domain": ["top|IgG1","top|IgG2a","top|IgG2b","top|IgG3","top|IgA","top|IgM","bot|IgG1","bot|IgG2a","bot|IgG2b","bot|IgG3","bot|IgA","bot|IgM","|Serum dilutions"], "paddingInner": 0, "paddingOuter": 0},
             "axis": {"title": null, "labelExpr": "split(datum.label, '|')[1]", "ticks": false, "domain": false, "labelPadding": 5, "offset": -33,
                      "labelFontSize": {"condition": {"test": "datum.value == '|Serum dilutions'", "value": 9.5}, "value": 10.5},
                      "labelBaseline": {"condition": {"test": "datum.value == '|Serum dilutions'", "value": "top"}, "value": "middle"}}},
       "color": {"field": "v", "type": "quantitative", "scale": {"domain": [0.05, 1.3], "range": ["#ffffff", "#9b5912"], "interpolate": "rgb"},
                 "legend": {"title": null, "orient": "right", "offset": 21, "direction": "vertical", "gradientLength": 181, "gradientThickness": 13, "values": [0.5, 1], "format": ".1f", "labelFontSize": 10.5, "padding": 0, "gradientStrokeColor": "black", "gradientStrokeWidth": 1.5, "labelOverlap": false}}
      }},
     {"data": {"values": [{"c":"L|LukE/HlgA|2"},{"c":"L|LukD/HlgB|2"},{"c":"L|Toxoids|2"},{"c":"L|WT-infected (21 dpi)|2"},{"c":"L|WT-infected (35 dpi)|2"},{"c":"H|LukE/HlgA|2"},{"c":"H|LukD/HlgB|2"},{"c":"H|Toxoids|2"},{"c":"H|WT-infected (21 dpi)|2"},{"c":"H|WT-infected (35 dpi)|2"}]},
      "mark": {"type": "point", "shape": "M-1,-0.25L1,0.75L-1,0.75Z", "size": 576, "filled": true, "color": "black", "opacity": 1, "strokeWidth": 0},
      "encoding": {"x": {"field": "c", "type": "nominal", "bandPosition": 1}, "y": {"datum": "|Serum dilutions", "type": "nominal"}}},
     {"data": {"values": [{"c":"L|LukD/HlgB|1"},{"c":"L|Toxoids|1"},{"c":"L|WT-infected (21 dpi)|1"},{"c":"L|WT-infected (35 dpi)|1"},{"c":"H|LukD/HlgB|1"},{"c":"H|Toxoids|1"},{"c":"H|WT-infected (21 dpi)|1"},{"c":"H|WT-infected (35 dpi)|1"}]},
      "mark": {"type": "rule", "color": "#a8a8a8", "strokeWidth": 1, "y2Offset": -15},
      "encoding": {"x": {"field": "c", "type": "nominal", "bandPosition": 0}}},
     {"data": {"values": [{}]}, "mark": {"type": "rule", "color": "black", "strokeWidth": 1.5, "y2Offset": -15},
      "encoding": {"x": {"datum": "L|LukE/HlgA|1", "type": "nominal", "bandPosition": 0}}},
     {"data": {"values": [{}]}, "mark": {"type": "rule", "color": "black", "strokeWidth": 1.5, "y2Offset": -15},
      "encoding": {"x": {"datum": "H|WT-infected (35 dpi)|4", "type": "nominal", "bandPosition": 1}}},
     {"data": {"values": [{}]}, "mark": {"type": "rule", "color": "black", "strokeWidth": 1.5, "xOffset": 33},
      "encoding": {"y": {"datum": "top|IgG1", "type": "nominal", "bandPosition": 0}}},
     {"data": {"values": [{}]}, "mark": {"type": "rule", "color": "black", "strokeWidth": 1.5, "xOffset": 33},
      "encoding": {"y": {"datum": "bot|IgM", "type": "nominal", "bandPosition": 1}}},
     {"data": {"values": [{}]}, "mark": {"type": "rule", "color": "black", "strokeWidth": 2, "y2Offset": 9},
      "encoding": {"x": {"datum": "H|LukE/HlgA|1", "type": "nominal", "bandPosition": 0}}},
     {"data": {"values": [{}]}, "mark": {"type": "rule", "color": "black", "strokeWidth": 2, "xOffset": -18, "x2Offset": 18},
      "encoding": {"y": {"datum": "bot|IgG1", "type": "nominal", "bandPosition": 0}}},
     {"data": {"values": [{"g":"Anti-LukE","r":"top|IgA"},{"g":"Anti-LukD","r":"bot|IgA"}]},
      "mark": {"type": "text", "angle": 270, "fontSize": 11, "baseline": "middle", "align": "center", "xOffset": -47},
      "encoding": {"x": {"datum": "L|LukE/HlgA|1", "type": "nominal", "bandPosition": 0}, "y": {"field": "r", "type": "nominal", "bandPosition": 0}, "text": {"field": "g"}}},
     {"data": {"values": [{"g":"Anti-HlgA","r":"top|IgA"},{"g":"Anti-HlgB","r":"bot|IgA"}]},
      "mark": {"type": "text", "angle": 90, "fontSize": 11, "baseline": "middle", "align": "center", "xOffset": 8},
      "encoding": {"x": {"datum": "H|WT-infected (35 dpi)|4", "type": "nominal", "bandPosition": 1}, "y": {"field": "r", "type": "nominal", "bandPosition": 0}, "text": {"field": "g"}}},
     {"data": {"values": [{}]}, "mark": {"type": "text", "text": "ELISA Signal", "angle": 90, "fontSize": 11, "baseline": "middle", "align": "center", "xOffset": 60, "yOffset": -8},
      "encoding": {"x": {"datum": "H|WT-infected (35 dpi)|4", "type": "nominal", "bandPosition": 1}, "y": {"datum": "bot|IgG1", "type": "nominal", "bandPosition": 0}}},
     {"data": {"values": [{}]}, "mark": {"type": "text", "text": "Isotypes of anti-leukocidin antibodies", "fontSize": 12.5, "baseline": "alphabetic", "align": "center", "xOffset": 17, "yOffset": -8},
      "encoding": {"x": {"datum": "H|LukE/HlgA|1", "type": "nominal", "bandPosition": 0}, "y": {"datum": "top|IgG1", "type": "nominal", "bandPosition": 0}}},
     {"data": {"values": [{}]}, "mark": {"type": "text", "text": "C", "fontSize": 16, "align": "left", "baseline": "middle", "xOffset": -73, "yOffset": -15},
      "encoding": {"x": {"datum": "L|LukE/HlgA|1", "type": "nominal", "bandPosition": 0}, "y": {"datum": "top|IgG1", "type": "nominal", "bandPosition": 0}}}
    ]
   }
  ], "spacing": 53, "bounds": "flush"},
  {"resolve": {"scale": {"color": "independent"}},
   "vconcat": [
   {
    "width": 205, "height": 122,
    "layer": [
     {"data": {"values": [
{"s":"Pooled Mock","c":"LukE|1","v":0.05},{"s":"Pooled Mock","c":"LukE|2","v":0.04},{"s":"Pooled Mock","c":"LukE|3","v":0.03},{"s":"Pooled Mock","c":"LukE|4","v":0.03},
{"s":"Pooled Mock","c":"LukD|1","v":0.03},{"s":"Pooled Mock","c":"LukD|2","v":0.02},{"s":"Pooled Mock","c":"LukD|3","v":0.02},{"s":"Pooled Mock","c":"LukD|4","v":0.02},
{"s":"Pooled Mock","c":"HlgA|1","v":0.05},{"s":"Pooled Mock","c":"HlgA|2","v":0.04},{"s":"Pooled Mock","c":"HlgA|3","v":0.03},{"s":"Pooled Mock","c":"HlgA|4","v":0.03},
{"s":"Pooled Mock","c":"HlgB|1","v":0.04},{"s":"Pooled Mock","c":"HlgB|2","v":0.03},{"s":"Pooled Mock","c":"HlgB|3","v":0.02},{"s":"Pooled Mock","c":"HlgB|4","v":0.02},
{"s":"LukE/HlgA","c":"LukE|1","v":0.95},{"s":"LukE/HlgA","c":"LukE|2","v":0.9},{"s":"LukE/HlgA","c":"LukE|3","v":0.65},{"s":"LukE/HlgA","c":"LukE|4","v":0.35},
{"s":"LukE/HlgA","c":"LukD|1","v":0.03},{"s":"LukE/HlgA","c":"LukD|2","v":0.02},{"s":"LukE/HlgA","c":"LukD|3","v":0.02},{"s":"LukE/HlgA","c":"LukD|4","v":0.02},
{"s":"LukE/HlgA","c":"HlgA|1","v":0.96},{"s":"LukE/HlgA","c":"HlgA|2","v":0.9},{"s":"LukE/HlgA","c":"HlgA|3","v":0.62},{"s":"LukE/HlgA","c":"HlgA|4","v":0.33},
{"s":"LukE/HlgA","c":"HlgB|1","v":0.03},{"s":"LukE/HlgA","c":"HlgB|2","v":0.02},{"s":"LukE/HlgA","c":"HlgB|3","v":0.02},{"s":"LukE/HlgA","c":"HlgB|4","v":0.02},
{"s":"LukD/HlgB","c":"LukE|1","v":0.1},{"s":"LukD/HlgB","c":"LukE|2","v":0.04},{"s":"LukD/HlgB","c":"LukE|3","v":0.03},{"s":"LukD/HlgB","c":"LukE|4","v":0.03},
{"s":"LukD/HlgB","c":"LukD|1","v":0.9},{"s":"LukD/HlgB","c":"LukD|2","v":0.7},{"s":"LukD/HlgB","c":"LukD|3","v":0.45},{"s":"LukD/HlgB","c":"LukD|4","v":0.2},
{"s":"LukD/HlgB","c":"HlgA|1","v":0.1},{"s":"LukD/HlgB","c":"HlgA|2","v":0.05},{"s":"LukD/HlgB","c":"HlgA|3","v":0.04},{"s":"LukD/HlgB","c":"HlgA|4","v":0.03},
{"s":"LukD/HlgB","c":"HlgB|1","v":0.78},{"s":"LukD/HlgB","c":"HlgB|2","v":0.58},{"s":"LukD/HlgB","c":"HlgB|3","v":0.38},{"s":"LukD/HlgB","c":"HlgB|4","v":0.15},
{"s":"Toxoids","c":"LukE|1","v":0.9},{"s":"Toxoids","c":"LukE|2","v":0.8},{"s":"Toxoids","c":"LukE|3","v":0.6},{"s":"Toxoids","c":"LukE|4","v":0.3},
{"s":"Toxoids","c":"LukD|1","v":0.9},{"s":"Toxoids","c":"LukD|2","v":0.78},{"s":"Toxoids","c":"LukD|3","v":0.52},{"s":"Toxoids","c":"LukD|4","v":0.25},
{"s":"Toxoids","c":"HlgA|1","v":0.97},{"s":"Toxoids","c":"HlgA|2","v":0.85},{"s":"Toxoids","c":"HlgA|3","v":0.6},{"s":"Toxoids","c":"HlgA|4","v":0.3},
{"s":"Toxoids","c":"HlgB|1","v":0.78},{"s":"Toxoids","c":"HlgB|2","v":0.62},{"s":"Toxoids","c":"HlgB|3","v":0.4},{"s":"Toxoids","c":"HlgB|4","v":0.18}
      ]},
      "mark": {"type": "rect"},
      "encoding": {
       "x": {"field": "c", "type": "nominal", "scale": {"type": "band", "paddingInner": 0, "paddingOuter": 0, "domain": ["LukE|1","LukE|2","LukE|3","LukE|4","LukD|1","LukD|2","LukD|3","LukD|4","HlgA|1","HlgA|2","HlgA|3","HlgA|4","HlgB|1","HlgB|2","HlgB|3","HlgB|4"]},
             "axis": {"title": "Antigens", "values": ["LukE|2","LukD|2","HlgA|2","HlgB|2"], "labelExpr": "split(datum.label, '|')[0]", "labelOffset": 6.4, "offset": -17, "ticks": false, "domain": false, "labelPadding": 2, "labelFontSize": 11.5, "titleFontSize": 11.5, "titlePadding": 1, "labelAngle": 0}},
       "y": {"field": "s", "type": "nominal", "scale": {"domain": ["Serum dilutions","Pooled Mock","LukE/HlgA","LukD/HlgB","Toxoids"], "paddingInner": 0, "paddingOuter": 0.405, "align": 0},
             "axis": {"title": null, "ticks": false, "domain": false, "labelPadding": 6,
                      "labelFontSize": {"condition": {"test": "datum.value == 'Serum dilutions'", "value": 9.5}, "value": 11.5},
                      "labelBaseline": {"condition": {"test": "datum.value == 'Serum dilutions'", "value": "top"}, "value": "middle"}}},
       "color": {"field": "v", "type": "quantitative", "scale": {"domain": [0, 1], "range": ["#ffffff", "#4f1c91"], "interpolate": "rgb"},
                 "legend": {"title": null, "orient": "none", "legendX": 208, "legendY": 21, "direction": "vertical", "gradientLength": 84, "gradientThickness": 11, "values": [0, 0.5, 1], "labelExpr": "datum.value == 0 ? '0' : format(datum.value, '.1f')", "labelFontSize": 10.5, "padding": 0, "gradientStrokeColor": "black", "gradientStrokeWidth": 1.5, "labelOverlap": false}}
      }},
     {"data": {"values": [{"c":"LukE|2"},{"c":"LukD|2"},{"c":"HlgA|2"},{"c":"HlgB|2"}]},
      "mark": {"type": "point", "shape": "M-1,-0.07L1,0.43L-1,0.43Z", "size": 2116, "filled": true, "color": "black", "opacity": 1, "strokeWidth": 0},
      "encoding": {"x": {"field": "c", "type": "nominal", "bandPosition": 1}, "y": {"datum": "Serum dilutions", "type": "nominal"}}},
     {"data": {"values": [{"c":"LukD|1"},{"c":"HlgA|1"},{"c":"HlgB|1"}]}, "mark": {"type": "rule", "color": "#555555", "strokeWidth": 1.2, "yOffset": 21, "y2Offset": -17},
      "encoding": {"x": {"field": "c", "type": "nominal", "bandPosition": 0}}},
     {"data": {"values": [{}]}, "mark": {"type": "rule", "color": "black", "strokeWidth": 1.5, "yOffset": 21, "y2Offset": -17},
      "encoding": {"x": {"datum": "LukE|1", "type": "nominal", "bandPosition": 0}}},
     {"data": {"values": [{}]}, "mark": {"type": "rule", "color": "black", "strokeWidth": 1.5, "yOffset": 21, "y2Offset": -17},
      "encoding": {"x": {"datum": "HlgB|4", "type": "nominal", "bandPosition": 1}}},
     {"data": {"values": [{}]}, "mark": {"type": "rule", "color": "black", "strokeWidth": 1.5},
      "encoding": {"y": {"datum": "Pooled Mock", "type": "nominal", "bandPosition": 0}}},
     {"data": {"values": [{}]}, "mark": {"type": "rule", "color": "black", "strokeWidth": 1.5},
      "encoding": {"y": {"datum": "Toxoids", "type": "nominal", "bandPosition": 1}}},
     {"data": {"values": [{}]}, "mark": {"type": "text", "text": "Titers of anti-leukocidin antibodies", "fontSize": 12.5, "align": "center", "baseline": "alphabetic", "yOffset": 3},
      "encoding": {"x": {"datum": "HlgA|1", "type": "nominal", "bandPosition": 0}, "y": {"datum": "Serum dilutions", "type": "nominal", "bandPosition": 0}}},
     {"data": {"values": [{}]}, "mark": {"type": "text", "text": "Normalized ELISA Signal", "angle": 90, "fontSize": 10.5, "align": "left", "baseline": "middle", "xOffset": 44, "yOffset": 16},
      "encoding": {"x": {"datum": "HlgB|4", "type": "nominal", "bandPosition": 1}, "y": {"datum": "Serum dilutions", "type": "nominal", "bandPosition": 0}}},
     {"data": {"values": [{}]}, "mark": {"type": "text", "text": "B", "fontSize": 16, "align": "left", "baseline": "middle", "xOffset": -70},
      "encoding": {"x": {"datum": "LukE|1", "type": "nominal", "bandPosition": 0}, "y": {"datum": "Serum dilutions", "type": "nominal", "bandPosition": 0}}}
    ]
   },
   {
    "width": 180, "height": 121,
    "data": {"values": [
{"t":"LukED (56.5 nM)","g":"Pooled Mock","mean":83.5,"hi":86.8},
{"t":"LukED (56.5 nM)","g":"LukE/HlgA","mean":31.4,"hi":36.4},
{"t":"LukED (56.5 nM)","g":"LukD/HlgB","mean":37.2,"hi":42.1},
{"t":"LukED (56.5 nM)","g":"Toxoids","mean":29.8,"hi":34.7},
{"t":"HlgAB (45.34 nM)","g":"Pooled Mock","mean":84.3,"hi":86.8},
{"t":"HlgAB (45.34 nM)","g":"LukE/HlgA","mean":48.8,"hi":53.7},
{"t":"HlgAB (45.34 nM)","g":"LukD/HlgB","mean":61.2,"hi":66.9},
{"t":"HlgAB (45.34 nM)","g":"Toxoids","mean":21.5,"hi":25.6}
    ]},
    "layer": [
     {"mark": {"type": "rule", "strokeWidth": 1.5},
      "encoding": {
       "x": {"field": "t", "type": "nominal", "scale": {"type": "band", "domain": ["LukED (56.5 nM)","HlgAB (45.34 nM)"], "paddingInner": 0.15, "paddingOuter": 0.032}, "axis": {"title": null, "labelAngle": 0, "labelFontSize": 11.5, "labelPadding": 3}},
       "xOffset": {"field": "g", "type": "nominal", "scale": {"type": "band", "domain": ["Pooled Mock","LukE/HlgA","LukD/HlgB","Toxoids"], "paddingInner": 0.3, "paddingOuter": 0.15}},
       "y": {"field": "mean", "type": "quantitative", "scale": {"domain": [0, 100], "nice": false}, "axis": {"title": "% Dead cells", "values": [0,25,50,75,100], "titleFontSize": 12}},
       "y2": {"field": "hi"},
       "color": {"field": "g", "type": "nominal", "scale": {"domain": ["Pooled Mock","LukE/HlgA","LukD/HlgB","Toxoids"], "range": ["#a6a6a6","#ff7f7f","#1a8cff","#0a8a0a"]},
                 "legend": {"title": null, "orient": "none", "legendX": 194, "legendY": 6, "symbolType": "M-1.25,-0.7h2.5v1.4h-2.5z", "symbolSize": 256, "labelOffset": 5, "rowPadding": 0, "labelFontSize": 10.5, "symbolStrokeWidth": 0, "symbolOpacity": 1}}
      }},
     {"mark": {"type": "tick", "orient": "horizontal", "size": 9, "thickness": 1.5},
      "encoding": {
       "x": {"field": "t", "type": "nominal"},
       "xOffset": {"field": "g", "type": "nominal"},
       "y": {"field": "hi", "type": "quantitative"},
       "color": {"field": "g", "type": "nominal", "legend": {"title": null, "orient": "none", "legendX": 194, "legendY": 6, "symbolType": "M-1.25,-0.7h2.5v1.4h-2.5z", "symbolSize": 256, "labelOffset": 5, "rowPadding": 0, "labelFontSize": 10.5, "symbolStrokeWidth": 0, "symbolOpacity": 1}}
      }},
     {"mark": {"type": "bar"},
      "encoding": {
       "x": {"field": "t", "type": "nominal"},
       "xOffset": {"field": "g", "type": "nominal"},
       "y": {"field": "mean", "type": "quantitative"},
       "color": {"field": "g", "type": "nominal", "legend": {"title": null, "orient": "none", "legendX": 194, "legendY": 6, "symbolType": "M-1.25,-0.7h2.5v1.4h-2.5z", "symbolSize": 256, "labelOffset": 5, "rowPadding": 0, "labelFontSize": 10.5, "symbolStrokeWidth": 0, "symbolOpacity": 1}}
      }},
     {"data": {"values": [
{"t":"LukED (56.5 nM)","g":"Pooled Mock","y":90.1,"id":1,"k":0},
{"t":"LukED (56.5 nM)","g":"Pooled Mock","y":92.6,"id":1,"k":1},
{"t":"LukED (56.5 nM)","g":"LukE/HlgA","y":92.6,"id":1,"k":2},
{"t":"LukED (56.5 nM)","g":"LukE/HlgA","y":90.1,"id":1,"k":3},
{"t":"LukED (56.5 nM)","g":"Pooled Mock","y":96.7,"id":2,"k":0},
{"t":"LukED (56.5 nM)","g":"Pooled Mock","y":99.2,"id":2,"k":1},
{"t":"LukED (56.5 nM)","g":"LukD/HlgB","y":99.2,"id":2,"k":2},
{"t":"LukED (56.5 nM)","g":"LukD/HlgB","y":96.7,"id":2,"k":3},
{"t":"LukED (56.5 nM)","g":"Pooled Mock","y":103.3,"id":3,"k":0},
{"t":"LukED (56.5 nM)","g":"Pooled Mock","y":105.8,"id":3,"k":1},
{"t":"LukED (56.5 nM)","g":"Toxoids","y":105.8,"id":3,"k":2},
{"t":"LukED (56.5 nM)","g":"Toxoids","y":103.3,"id":3,"k":3},
{"t":"HlgAB (45.34 nM)","g":"Pooled Mock","y":93.4,"id":4,"k":0},
{"t":"HlgAB (45.34 nM)","g":"Pooled Mock","y":95.9,"id":4,"k":1},
{"t":"HlgAB (45.34 nM)","g":"Toxoids","y":95.9,"id":4,"k":2},
{"t":"HlgAB (45.34 nM)","g":"Toxoids","y":93.4,"id":4,"k":3}
      ]},
      "mark": {"type": "line", "color": "black", "strokeWidth": 1.2},
      "encoding": {
       "x": {"field": "t", "type": "nominal"},
       "xOffset": {"field": "g", "type": "nominal"},
       "y": {"field": "y", "type": "quantitative"},
       "detail": {"field": "id"},
       "order": {"field": "k", "type": "quantitative"}
      }},
     {"data": {"values": [
{"t":"LukED (56.5 nM)","g":"Pooled Mock","y":92.6,"lab":"**"},
{"t":"LukED (56.5 nM)","g":"LukE/HlgA","y":105.8,"lab":"**"},
{"t":"HlgAB (45.34 nM)","g":"LukE/HlgA","y":95.9,"lab":"***"}
      ]},
      "mark": {"type": "text", "fontSize": 9, "baseline": "middle", "dx": 10, "dy": -1},
      "encoding": {"x": {"field": "t", "type": "nominal"}, "xOffset": {"field": "g", "type": "nominal"}, "y": {"field": "y", "type": "quantitative"}, "text": {"field": "lab"}}},
     {"data": {"values": [{"t":"LukED (56.5 nM)","g":"LukE/HlgA","y":99.2,"lab":"*"}]},
      "mark": {"type": "text", "fontSize": 9, "baseline": "middle", "dy": -1},
      "encoding": {"x": {"field": "t", "type": "nominal"}, "xOffset": {"field": "g", "type": "nominal"}, "y": {"field": "y", "type": "quantitative"}, "text": {"field": "lab"}}},
     {"data": {"values": [{}]}, "mark": {"type": "text", "text": "2% serum", "fontSize": 13.5, "align": "center", "baseline": "alphabetic", "xOffset": -7, "yOffset": -15},
      "encoding": {"x": {"datum": "HlgAB (45.34 nM)", "type": "nominal", "bandPosition": 0}, "y": {"datum": 100, "type": "quantitative"}}},
     {"data": {"values": [{}]}, "mark": {"type": "text", "text": "D", "fontSize": 16, "align": "left", "baseline": "middle", "xOffset": -43, "yOffset": -19},
      "encoding": {"x": {"datum": "LukED (56.5 nM)", "type": "nominal", "bandPosition": 0}, "y": {"datum": 100, "type": "quantitative"}}}
    ]
   }
  ], "spacing": 53, "bounds": "flush"}
 ], "spacing": -22},
 {"resolve": {"scale": {"color": "independent"}},
  "vconcat": [
  {"resolve": {"scale": {"color": "independent"}},
   "hconcat": [
   {
    "width": 184, "height": 120,
    "layer": [
     {"data": {"values": [
{"g":"Mock","t":0,"s":100},{"g":"Mock","t":12.6,"s":83.3},{"g":"Mock","t":13.4,"s":16.7},{"g":"Mock","t":16.4,"s":0},
{"g":"LukE/HlgA","t":0,"s":100},{"g":"LukE/HlgA","t":15.6,"s":83.3},{"g":"LukE/HlgA","t":25.3,"s":66.7},{"g":"LukE/HlgA","t":69.7,"s":50},{"g":"LukE/HlgA","t":80,"s":50},
{"g":"Toxoids","t":0,"s":100},{"g":"Toxoids","t":14,"s":83.3},{"g":"Toxoids","t":14.3,"s":66.7},{"g":"Toxoids","t":17.9,"s":50},{"g":"Toxoids","t":29.8,"s":33.3},{"g":"Toxoids","t":31.3,"s":16.7},{"g":"Toxoids","t":52.4,"s":0},
{"g":"LukD/HlgB","t":0,"s":100},{"g":"LukD/HlgB","t":18.6,"s":83.3},{"g":"LukD/HlgB","t":27.3,"s":66.7},{"g":"LukD/HlgB","t":80,"s":66.7}
      ]},
      "mark": {"type": "line", "interpolate": "step-after", "strokeWidth": 1.6},
      "encoding": {
       "x": {"field": "t", "type": "quantitative", "scale": {"domain": [0, 82], "nice": false}, "axis": {"title": "Time (minutes)", "values": [0,20,40,60,80]}},
       "y": {"field": "s", "type": "quantitative", "scale": {"domain": [0, 110], "nice": false}, "axis": {"title": "% Survival", "values": [0,25,50,75,100], "titlePadding": 1}},
       "color": {"field": "g", "type": "nominal", "scale": {"domain": ["Mock","LukE/HlgA","LukD/HlgB","Toxoids"], "range": ["#a6a6a6","#ff7f7f","#1a8cff","#0a8a0a"]}, "legend": null}
      }},
     {"data": {"values": [{"x":83.6,"y":50,"y2":0,"ym":30,"lab":"**"},{"x":87.6,"y":66.7,"y2":0,"ym":37,"lab":"***"}]},
      "mark": {"type": "rule", "color": "black", "strokeWidth": 1.5},
      "encoding": {"x": {"field": "x", "type": "quantitative"}, "y": {"field": "y", "type": "quantitative"}, "y2": {"field": "y2"}}},
     {"data": {"values": [{"x":83.6,"y":50,"y2":0,"ym":30,"lab":"**"},{"x":87.6,"y":66.7,"y2":0,"ym":37,"lab":"***"}]},
      "mark": {"type": "text", "angle": 90, "fontSize": 9, "baseline": "middle", "xOffset": 4},
      "encoding": {"x": {"field": "x", "type": "quantitative"}, "y": {"field": "ym", "type": "quantitative"}, "text": {"field": "lab"}}},
     {"data": {"values": [{"x":83.6,"y":50},{"x":83.6,"y":16.7},{"x":87.6,"y":66.7}]},
      "mark": {"type": "tick", "orient": "horizontal", "size": 6, "thickness": 1.5, "color": "black", "xOffset": -3},
      "encoding": {"x": {"field": "x", "type": "quantitative"}, "y": {"field": "y", "type": "quantitative"}}},
     {"data": {"values": [{}]}, "mark": {"type": "text", "text": "LukED (0.25 mg/kg)", "fontSize": 13, "align": "center", "baseline": "alphabetic", "yOffset": -15},
      "encoding": {"x": {"datum": 41, "type": "quantitative"}, "y": {"datum": 110, "type": "quantitative"}}},
     {"data": {"values": [{}]}, "mark": {"type": "text", "text": "E", "fontSize": 16, "align": "left", "baseline": "middle", "xOffset": -40, "yOffset": -25},
      "encoding": {"x": {"datum": 0, "type": "quantitative"}, "y": {"datum": 110, "type": "quantitative"}}}
    ]
   },
   {
    "width": 184, "height": 120,
    "layer": [
     {"data": {"values": [
{"g":"Mock","t":0,"s":100},{"g":"Mock","t":16,"s":83.3},{"g":"Mock","t":16.5,"s":66.7},{"g":"Mock","t":17.8,"s":50},{"g":"Mock","t":18.7,"s":33.3},{"g":"Mock","t":20.5,"s":16.7},{"g":"Mock","t":21,"s":0},
{"g":"Toxoids","t":0,"s":100},{"g":"Toxoids","t":16,"s":83.3},{"g":"Toxoids","t":80,"s":83.3},
{"g":"LukE/HlgA","t":0,"s":100},{"g":"LukE/HlgA","t":57,"s":83.3},{"g":"LukE/HlgA","t":80,"s":83.3},
{"g":"LukD/HlgB","t":0,"s":100},{"g":"LukD/HlgB","t":80,"s":100}
      ]},
      "mark": {"type": "line", "interpolate": "step-after", "strokeWidth": 1.6},
      "encoding": {
       "x": {"field": "t", "type": "quantitative", "scale": {"domain": [0, 82], "nice": false}, "axis": {"title": "Time (minutes)", "values": [0,20,40,60,80]}},
       "y": {"field": "s", "type": "quantitative", "scale": {"domain": [0, 110], "nice": false}, "axis": {"title": "% Survival", "values": [0,25,50,75,100], "titlePadding": 1}},
       "color": {"field": "g", "type": "nominal", "scale": {"domain": ["Mock","LukE/HlgA","LukD/HlgB","Toxoids"], "range": ["#a6a6a6","#ff7f7f","#1a8cff","#0a8a0a"]},
                 "legend": {"title": null, "orient": "none", "legendX": 215, "legendY": 1, "symbolType": "stroke", "symbolSize": 324, "symbolStrokeWidth": 2, "labelOffset": 7, "rowPadding": 1.75, "labelFontSize": 11}}
      }},
     {"data": {"values": [{"x":83.6,"y":83.3,"y2":0,"ym":50,"lab":"*"},{"x":89.4,"y":100,"y2":0,"ym":53,"lab":"***"}]},
      "mark": {"type": "rule", "color": "black", "strokeWidth": 1.5},
      "encoding": {"x": {"field": "x", "type": "quantitative"}, "y": {"field": "y", "type": "quantitative"}, "y2": {"field": "y2"}}},
     {"data": {"values": [{"x":83.6,"y":83.3,"y2":0,"ym":50,"lab":"*"},{"x":89.4,"y":100,"y2":0,"ym":53,"lab":"***"}]},
      "mark": {"type": "text", "angle": 90, "fontSize": 9, "baseline": "middle", "xOffset": 4},
      "encoding": {"x": {"field": "x", "type": "quantitative"}, "y": {"field": "ym", "type": "quantitative"}, "text": {"field": "lab"}}},
     {"data": {"values": [{"x":83.6,"y":83.3},{"x":89.4,"y":100}]},
      "mark": {"type": "tick", "orient": "horizontal", "size": 6, "thickness": 1.5, "color": "black", "xOffset": -3},
      "encoding": {"x": {"field": "x", "type": "quantitative"}, "y": {"field": "y", "type": "quantitative"}}},
     {"data": {"values": [{}]}, "mark": {"type": "text", "text": "HlgAB (0.12 mg/kg)", "fontSize": 13, "align": "center", "baseline": "alphabetic", "yOffset": -15},
      "encoding": {"x": {"datum": 41, "type": "quantitative"}, "y": {"datum": 110, "type": "quantitative"}}},
     {"data": {"values": [{}]}, "mark": {"type": "text", "text": "F", "fontSize": 16, "align": "left", "baseline": "middle", "xOffset": -33, "yOffset": -25},
      "encoding": {"x": {"datum": 0, "type": "quantitative"}, "y": {"datum": 110, "type": "quantitative"}}}
    ]
   }
  ], "spacing": 61, "bounds": "flush"},
  {"resolve": {"scale": {"color": "independent"}},
   "hconcat": [
   {
    "width": 178, "height": 131,
    "layer": [
     {"data": {"values": [
{"g":"Mock → ΔΔ S.aureus","t":0,"s":100},{"g":"Mock → ΔΔ S.aureus","t":3.2,"s":95},{"g":"Mock → ΔΔ S.aureus","t":3.6,"s":90},{"g":"Mock → ΔΔ S.aureus","t":16.9,"s":85},{"g":"Mock → ΔΔ S.aureus","t":21,"s":85},
{"g":"LukE/HlgA → WT S.aureus","t":0,"s":100},{"g":"LukE/HlgA → WT S.aureus","t":4,"s":94.7},{"g":"LukE/HlgA → WT S.aureus","t":5.6,"s":89.5},{"g":"LukE/HlgA → WT S.aureus","t":9.8,"s":84.2},{"g":"LukE/HlgA → WT S.aureus","t":13.5,"s":78.9},{"g":"LukE/HlgA → WT S.aureus","t":13.9,"s":73.7},{"g":"LukE/HlgA → WT S.aureus","t":16.9,"s":68.4},{"g":"LukE/HlgA → WT S.aureus","t":17.9,"s":63.2},{"g":"LukE/HlgA → WT S.aureus","t":21,"s":63.2},
{"g":"LukD/HlgB → WT S.aureus","t":0,"s":100},{"g":"LukD/HlgB → WT S.aureus","t":4,"s":95},{"g":"LukD/HlgB → WT S.aureus","t":4.5,"s":90},{"g":"LukD/HlgB → WT S.aureus","t":5.5,"s":85},{"g":"LukD/HlgB → WT S.aureus","t":7.9,"s":80},{"g":"LukD/HlgB → WT S.aureus","t":8.5,"s":75},{"g":"LukD/HlgB → WT S.aureus","t":11.9,"s":70},{"g":"LukD/HlgB → WT S.aureus","t":12.6,"s":60},{"g":"LukD/HlgB → WT S.aureus","t":13.9,"s":55},{"g":"LukD/HlgB → WT S.aureus","t":16.9,"s":50},{"g":"LukD/HlgB → WT S.aureus","t":21,"s":50},
{"g":"Toxoids → WT S.aureus","t":0,"s":100},{"g":"Toxoids → WT S.aureus","t":3.6,"s":95},{"g":"Toxoids → WT S.aureus","t":4,"s":90},{"g":"Toxoids → WT S.aureus","t":7,"s":85},{"g":"Toxoids → WT S.aureus","t":9.4,"s":80},{"g":"Toxoids → WT S.aureus","t":9.8,"s":75},{"g":"Toxoids → WT S.aureus","t":21,"s":70},
{"g":"Mock → WT S.aureus","t":0,"s":100},{"g":"Mock → WT S.aureus","t":2.9,"s":95},{"g":"Mock → WT S.aureus","t":3.4,"s":90},{"g":"Mock → WT S.aureus","t":4,"s":85},{"g":"Mock → WT S.aureus","t":5.4,"s":70},{"g":"Mock → WT S.aureus","t":5.8,"s":65},{"g":"Mock → WT S.aureus","t":7,"s":55},{"g":"Mock → WT S.aureus","t":7.4,"s":45},{"g":"Mock → WT S.aureus","t":8.5,"s":40},{"g":"Mock → WT S.aureus","t":9.4,"s":25},{"g":"Mock → WT S.aureus","t":9.8,"s":20},{"g":"Mock → WT S.aureus","t":13.5,"s":15},{"g":"Mock → WT S.aureus","t":16.9,"s":10},{"g":"Mock → WT S.aureus","t":21,"s":10}
      ]},
      "mark": {"type": "line", "interpolate": "step-after", "strokeWidth": 1.6},
      "encoding": {
       "x": {"field": "t", "type": "quantitative", "scale": {"domain": [0, 24], "nice": false}, "axis": {"title": "Days post Infection", "values": [0,7,14,21], "titleFontSize": 12}},
       "y": {"field": "s", "type": "quantitative", "scale": {"domain": [0, 110], "nice": false}, "axis": {"title": "% Survival", "values": [0,25,50,75,100], "titlePadding": 1}},
       "color": {"field": "g", "type": "nominal", "scale": {"domain": ["Mock → WT S.aureus","Mock → ΔΔ S.aureus","LukE/HlgA → WT S.aureus","LukD/HlgB → WT S.aureus","Toxoids → WT S.aureus"], "range": ["#000000","#a6a6a6","#ff7f7f","#1a8cff","#0a8a0a"]}, "legend": null}
      }},
     {"data": {"values": [{"x":22.1,"y":50,"y2":10,"ym":42,"lab":"**"},{"x":23.1,"y":85,"y2":10,"ym":74,"lab":"****"}]},
      "mark": {"type": "rule", "color": "black", "strokeWidth": 1.5},
      "encoding": {"x": {"field": "x", "type": "quantitative"}, "y": {"field": "y", "type": "quantitative"}, "y2": {"field": "y2"}}},
     {"data": {"values": [{"x":22.1,"y":50,"y2":10,"ym":42,"lab":"**"},{"x":23.1,"y":85,"y2":10,"ym":74,"lab":"****"}]},
      "mark": {"type": "text", "angle": 90, "fontSize": 9, "baseline": "middle", "xOffset": 4},
      "encoding": {"x": {"field": "x", "type": "quantitative"}, "y": {"field": "ym", "type": "quantitative"}, "text": {"field": "lab"}}},
     {"data": {"values": [{"x":22.1,"y":50},{"x":23.1,"y":85},{"x":23.1,"y":63.2}]},
      "mark": {"type": "tick", "orient": "horizontal", "size": 6, "thickness": 1.5, "color": "black", "xOffset": -3},
      "encoding": {"x": {"field": "x", "type": "quantitative"}, "y": {"field": "y", "type": "quantitative"}}},
     {"data": {"values": [{}]}, "mark": {"type": "text", "text": "MSSA", "fontSize": 13, "align": "center", "baseline": "alphabetic", "yOffset": -12},
      "encoding": {"x": {"datum": 12, "type": "quantitative"}, "y": {"datum": 110, "type": "quantitative"}}},
     {"data": {"values": [{}]}, "mark": {"type": "text", "text": "G", "fontSize": 16, "align": "left", "baseline": "middle", "xOffset": -40, "yOffset": -19},
      "encoding": {"x": {"datum": 0, "type": "quantitative"}, "y": {"datum": 110, "type": "quantitative"}}}
    ]
   },
   {
    "width": 178, "height": 131,
    "layer": [
     {"data": {"values": [
{"g":"Mock → ΔΔ S.aureus","t":0,"s":100},{"g":"Mock → ΔΔ S.aureus","t":21,"s":100},
{"g":"LukE/HlgA → WT S.aureus","t":0,"s":100},{"g":"LukE/HlgA → WT S.aureus","t":5,"s":90},{"g":"LukE/HlgA → WT S.aureus","t":9,"s":80},{"g":"LukE/HlgA → WT S.aureus","t":21,"s":80},
{"g":"LukD/HlgB → WT S.aureus","t":0,"s":100},{"g":"LukD/HlgB → WT S.aureus","t":2.5,"s":90},{"g":"LukD/HlgB → WT S.aureus","t":3.8,"s":70},{"g":"LukD/HlgB → WT S.aureus","t":11.7,"s":60},{"g":"LukD/HlgB → WT S.aureus","t":21,"s":60},
{"g":"Toxoids → WT S.aureus","t":0,"s":100},{"g":"Toxoids → WT S.aureus","t":5,"s":80},{"g":"Toxoids → WT S.aureus","t":6.5,"s":70},{"g":"Toxoids → WT S.aureus","t":21,"s":70},
{"g":"Mock → WT S.aureus","t":0,"s":100},{"g":"Mock → WT S.aureus","t":1.35,"s":90},{"g":"Mock → WT S.aureus","t":2,"s":80},{"g":"Mock → WT S.aureus","t":4.5,"s":70},{"g":"Mock → WT S.aureus","t":8.5,"s":60},{"g":"Mock → WT S.aureus","t":11.8,"s":50},{"g":"Mock → WT S.aureus","t":12.5,"s":40},{"g":"Mock → WT S.aureus","t":13.2,"s":20},{"g":"Mock → WT S.aureus","t":13.4,"s":10},{"g":"Mock → WT S.aureus","t":13.6,"s":0}
      ]},
      "mark": {"type": "line", "interpolate": "step-after", "strokeWidth": 1.6},
      "encoding": {
       "x": {"field": "t", "type": "quantitative", "scale": {"domain": [0, 24], "nice": false}, "axis": {"title": "Days Post Infection", "values": [0,7,14,21], "titleFontSize": 12}},
       "y": {"field": "s", "type": "quantitative", "scale": {"domain": [0, 110], "nice": false}, "axis": {"title": "% Survival", "values": [0,25,50,75,100], "titlePadding": 1}},
       "color": {"field": "g", "type": "nominal", "scale": {"domain": ["Mock → WT S.aureus","Mock → ΔΔ S.aureus","LukE/HlgA → WT S.aureus","LukD/HlgB → WT S.aureus","Toxoids → WT S.aureus"], "range": ["#000000","#a6a6a6","#ff7f7f","#1a8cff","#0a8a0a"]},
                 "legend": {"title": null, "orient": "none", "legendX": 215.5, "legendY": 8, "symbolType": "stroke", "symbolSize": 324, "symbolStrokeWidth": 2, "labelOffset": 12, "rowPadding": 1.75, "labelFontSize": 11}}
      }},
     {"data": {"values": [{"x":22.6,"y":60,"y2":2,"ym":40,"lab":""},{"x":24.4,"y":70,"y2":2,"ym":57,"lab":"**"},{"x":25.6,"y":80,"y2":2,"ym":67,"lab":"***"},{"x":26.8,"y":100,"y2":2,"ym":93,"lab":"****"}]},
      "mark": {"type": "rule", "color": "black", "strokeWidth": 1.5},
      "encoding": {"x": {"field": "x", "type": "quantitative"}, "y": {"field": "y", "type": "quantitative"}, "y2": {"field": "y2"}}},
     {"data": {"values": [{"x":22.6,"y":60,"y2":2,"ym":40,"lab":""},{"x":24.4,"y":70,"y2":2,"ym":57,"lab":"**"},{"x":25.6,"y":80,"y2":2,"ym":67,"lab":"***"},{"x":26.8,"y":100,"y2":2,"ym":93,"lab":"****"}]},
      "mark": {"type": "text", "angle": 90, "fontSize": 9, "baseline": "middle", "xOffset": 4},
      "encoding": {"x": {"field": "x", "type": "quantitative"}, "y": {"field": "ym", "type": "quantitative"}, "text": {"field": "lab"}}},
     {"data": {"values": [{"x":22.6,"y":60},{"x":24.4,"y":70},{"x":25.6,"y":80},{"x":26.8,"y":100}]},
      "mark": {"type": "tick", "orient": "horizontal", "size": 6, "thickness": 1.5, "color": "black", "xOffset": -3},
      "encoding": {"x": {"field": "x", "type": "quantitative"}, "y": {"field": "y", "type": "quantitative"}}},
     {"data": {"values": [{}]}, "mark": {"type": "text", "text": "p", "fontStyle": "italic", "angle": 90, "fontSize": 10.5, "align": "left", "baseline": "middle", "xOffset": 6},
      "encoding": {"x": {"datum": 22.6, "type": "quantitative"}, "y": {"datum": 63, "type": "quantitative"}}},
     {"data": {"values": [{}]}, "mark": {"type": "text", "text": "=0.0247", "angle": 90, "fontSize": 10.5, "align": "left", "baseline": "middle", "xOffset": 6, "dx": 6},
      "encoding": {"x": {"datum": 22.6, "type": "quantitative"}, "y": {"datum": 63, "type": "quantitative"}}},
     {"data": {"values": [{}]}, "mark": {"type": "text", "text": "MRSA", "fontSize": 13, "align": "center", "baseline": "alphabetic", "yOffset": -12},
      "encoding": {"x": {"datum": 12, "type": "quantitative"}, "y": {"datum": 110, "type": "quantitative"}}},
     {"data": {"values": [{}]}, "mark": {"type": "text", "text": "H", "fontSize": 16, "align": "left", "baseline": "middle", "xOffset": -33, "yOffset": -19},
      "encoding": {"x": {"datum": 0, "type": "quantitative"}, "y": {"datum": 110, "type": "quantitative"}}}
    ]
   }
  ], "spacing": 67, "bounds": "flush"}
 ], "spacing": -1}
]
}
